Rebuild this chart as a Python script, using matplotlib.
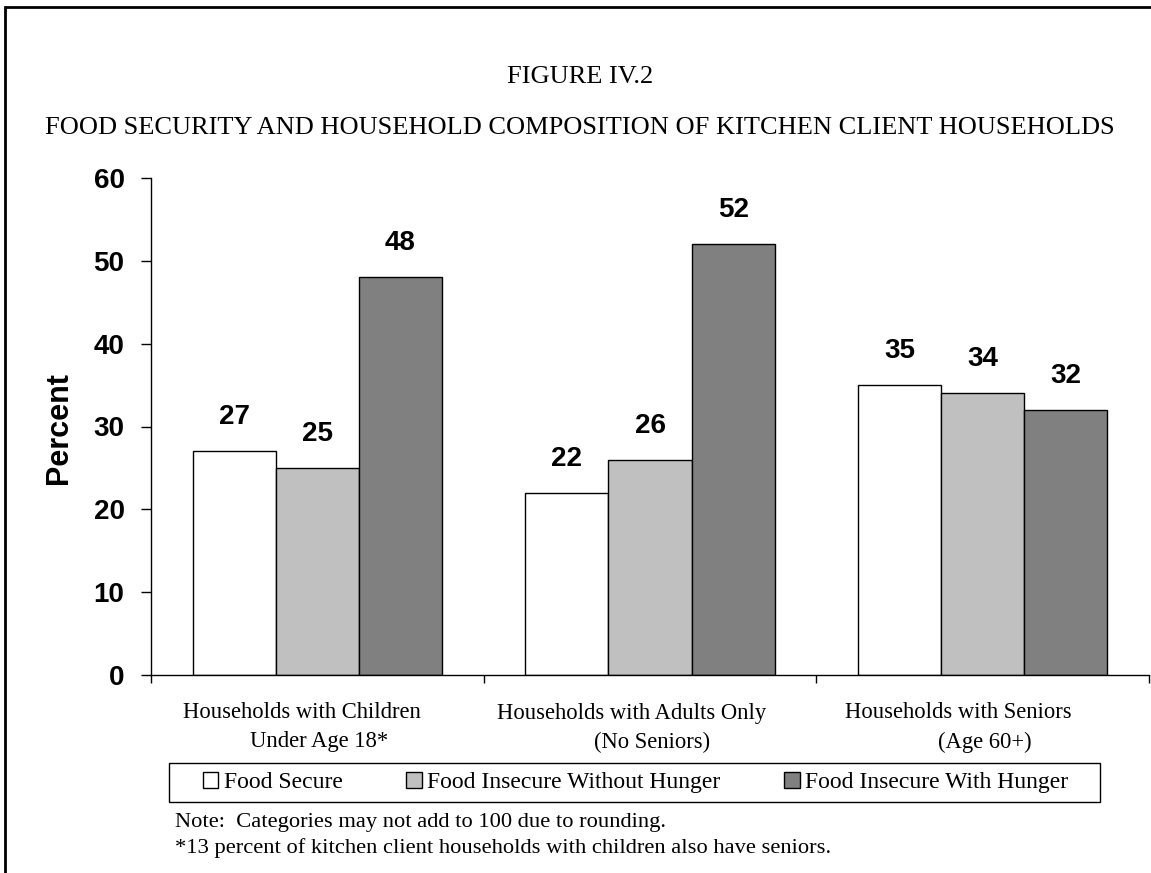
import numpy as np
import matplotlib
matplotlib.use('Agg')
import matplotlib.pyplot as plt
import matplotlib.transforms as mtransforms
from matplotlib.patches import Rectangle


groups_line1 = ['Households with Children', 'Households with Adults Only', 'Households with Seniors']
groups_line2 = ['Under Age 18*', '(No Seniors)', '(Age 60+)']
series = ['Food Secure', 'Food Insecure Without Hunger', 'Food Insecure With Hunger']
food_secure = [27, 22, 35]
insecure_no_hunger = [25, 26, 34]
insecure_hunger = [48, 52, 32]
yticks = [0, 10, 20, 30, 40, 50, 60]

colors = ['#FFFFFF', '#C0C0C0', '#808080']
serif = 'Liberation Serif'
sans = 'Liberation Sans'

fig = plt.figure(figsize=(11.51, 8.73), dpi=100)
ax = fig.add_axes([151/1151, 1 - 675/873, (1149 - 151)/1151, (675 - 178)/873])

# bars, each group spans one unit on x
w = 0.25
x = np.arange(len(groups_line1)) + 0.5
all_vals = [food_secure, insecure_no_hunger, insecure_hunger]
handles = []
for k, vals in enumerate(all_vals):
    b = ax.bar(x + (k - 1) * w, vals, width=w, color=colors[k],
               edgecolor='black', linewidth=1.0, label=series[k])
    handles.append(b)
    for xi, v in zip(x + (k - 1) * w, vals):
        ax.annotate(str(v), (xi, v), xytext=(0, 19.5), textcoords='offset points',
                    ha='center', va='baseline', fontsize=20, fontweight='bold',
                    family=sans)

ax.set_xlim(0, 3)
ax.set_ylim(0, 60)
ax.set_xticks([0, 1, 2, 3])
ax.set_xticklabels([])
ax.set_yticks(yticks)
ax.set_yticklabels([str(t) for t in yticks], fontsize=20, fontweight='bold', family=sans)
ax.tick_params(axis='y', direction='out', length=7, width=1, pad=12)
ax.tick_params(axis='x', direction='out', length=6, width=1)
for s in ['top', 'right']:
    ax.spines[s].set_visible(False)
for s in ['left', 'bottom']:
    ax.spines[s].set_linewidth(1)

ax.set_ylabel('Percent', fontsize=22, fontweight='bold', family=sans)
ax.yaxis.set_label_coords(74/1151, 1 - 428/873, transform=fig.transFigure)

# category labels, the first line sits a bit left as in the original
trans = mtransforms.blended_transform_factory(ax.transData, fig.transFigure)
shift1 = [-0.045, -0.054, -0.072]
for i in range(len(groups_line1)):
    ax.text(x[i] + shift1[i], 1 - 713/873, groups_line1[i], transform=trans,
            ha='center', va='center', fontsize=16.3, family=serif)
    ax.text(x[i] + 0.005, 1 - 742/873, groups_line2[i], transform=trans,
            ha='center', va='center', fontsize=16.3, family=serif)

# legend entries spread over the inner part of the box, box drawn separately
leg = fig.legend(handles=handles, labels=series, ncol=3, mode='expand',
                 loc='center', bbox_to_anchor=(203/1151, 1 - 802/873, (1068 - 203)/1151, 39/873),
                 prop={'family': serif, 'size': 17}, frameon=False,
                 borderpad=0, handlelength=0.65, handleheight=0.65,
                 handletextpad=0.22, borderaxespad=0)
fig.add_artist(Rectangle((169/1151, 1 - 802/873), (1100 - 169)/1151, 39/873,
                         transform=fig.transFigure, fill=False, edgecolor='black', linewidth=1))

fig.text(580/1151, 1 - 77/873, 'FIGURE IV.2', ha='center', va='center',
         fontsize=19, family=serif)
fig.text(580/1151, 1 - 128/873,
         'FOOD SECURITY AND HOUSEHOLD COMPOSITION OF KITCHEN CLIENT HOUSEHOLDS',
         ha='center', va='center', fontsize=19, family=serif)
fig.text(175/1151, 1 - 823/873, 'Note:  Categories may not add to 100 due to rounding.',
         ha='left', va='center', fontsize=16.2, family=serif)
fig.text(175/1151, 1 - 848/873,
         '*13 percent of kitchen client households with children also have seniors.',
         ha='left', va='center', fontsize=16.2, family=serif)

# page frame, only left and top edges fall inside the picture
top = 1 - 7/873
fig.add_artist(Rectangle((5/1151, -0.1), 1.2, top + 0.1, transform=fig.transFigure,
                         fill=False, edgecolor='black', linewidth=2))

fig.savefig('out.png', dpi=100)
